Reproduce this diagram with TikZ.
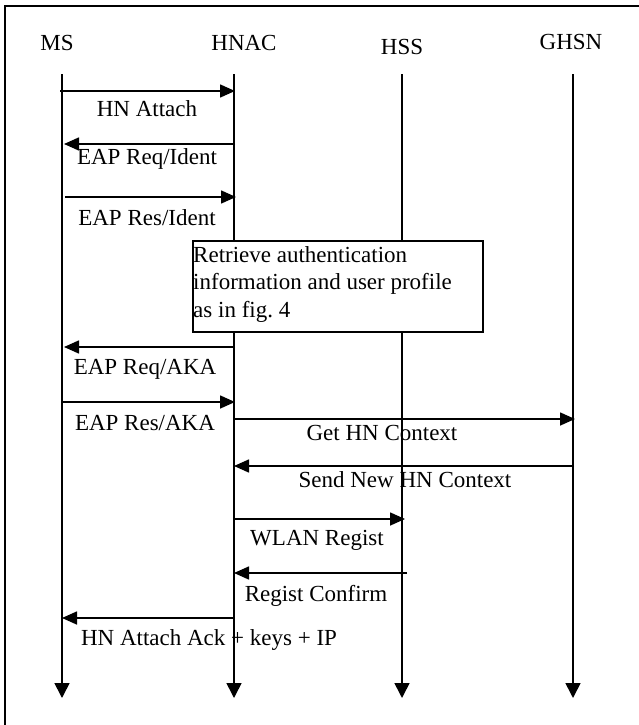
\documentclass[tikz,border=0pt]{standalone}
\usepackage{fontspec}
\setmainfont{Liberation Serif}
\usetikzlibrary{arrows.meta}
\begin{document}
\begin{tikzpicture}[x=1pt,y=-1pt,
  every node/.style={font=\fontsize{23}{27.5}\selectfont, inner sep=0pt},
  life/.style={line width=1.6pt,-{Triangle[length=15pt,width=15pt]}},
  msg/.style={line width=1.6pt,-{Triangle[length=15pt,width=13pt]}},
  lbl/.style={anchor=base},
  boxline/.style={anchor=base west},
  procbox/.style={draw,line width=1.6pt,fill=white,anchor=north west,minimum width=290pt,minimum height=91pt,inner sep=0pt}]
\useasboundingbox (0,0) rectangle (639,725);
\clip (0,0) rectangle (639,725);
\draw[line width=1.8pt] (5,760) -- (5,6) -- (680,6);
% headers
\node[lbl] (hMS) at (57,51) {MS};
\node[lbl] (hHN) at (244,51) {HNAC};
\node[lbl] (hHSS) at (402,55) {HSS};
\node[lbl] (hGH) at (571,50) {GHSN};
% lifelines
\coordinate (msT) at (62,74);   \coordinate (msB) at (62,698);
\coordinate (hnT) at (234,74);  \coordinate (hnB) at (234,698);
\coordinate (hsT) at (402,74);  \coordinate (hsB) at (402,698);
\coordinate (ghT) at (573,74);  \coordinate (ghB) at (573,698);
\draw[life] (msT) -- (msB);
\draw[life] (hnT) -- (hnB);
\draw[life] (hsT) -- (hsB);
\draw[life] (ghT) -- (ghB);
% box
\node[procbox] (box) at (192,240) {};
\node[boxline] (bt1) at (193,262) {Retrieve authentication};
\node[boxline] (bt2) at (193,289) {information and user profile};
\node[boxline] (bt3) at (193,317) {as in fig.\ 4};
% messages
\coordinate (a1) at (60,91);  \coordinate (b1) at (235,91);
\draw[msg] (a1) -- (b1);
\node[lbl] (l1) at (147,116) {HN Attach};
\coordinate (a2) at (235,144); \coordinate (b2) at (64,144);
\draw[msg] (a2) -- (b2);
\node[lbl] (l2) at (147,164) {EAP Req/Ident};
\coordinate (a3) at (65,197); \coordinate (b3) at (236,197);
\draw[msg] (a3) -- (b3);
\node[lbl] (l3) at (147,225) {EAP Res/Ident};
\coordinate (a4) at (235,347); \coordinate (b4) at (64,347);
\draw[msg] (a4) -- (b4);
\node[lbl] (l4) at (145,374) {EAP Req/AKA};
\coordinate (a5) at (62,402); \coordinate (b5) at (235,402);
\draw[msg] (a5) -- (b5);
\node[lbl] (l5) at (145,430) {EAP Res/AKA};
\coordinate (a6) at (234,419); \coordinate (b6) at (575,419);
\draw[msg] (a6) -- (b6);
\node[lbl] (l6) at (382,440) {Get HN Context};
\coordinate (a7) at (574,466); \coordinate (b7) at (234,466);
\draw[msg] (a7) -- (b7);
\node[lbl] (l7) at (405,487) {Send New HN Context};
\coordinate (a8) at (234,519); \coordinate (b8) at (405,519);
\draw[msg] (a8) -- (b8);
\node[lbl] (l8) at (317,545) {WLAN Regist};
\coordinate (a9) at (407,573); \coordinate (b9) at (234,573);
\draw[msg] (a9) -- (b9);
\node[lbl] (l9) at (316,601) {Regist Confirm};
\coordinate (a10) at (234,618); \coordinate (b10) at (62,618);
\draw[msg] (a10) -- (b10);
\node[lbl] (l10) at (209,645) {HN Attach Ack + keys + IP};
\end{tikzpicture}
\end{document}
